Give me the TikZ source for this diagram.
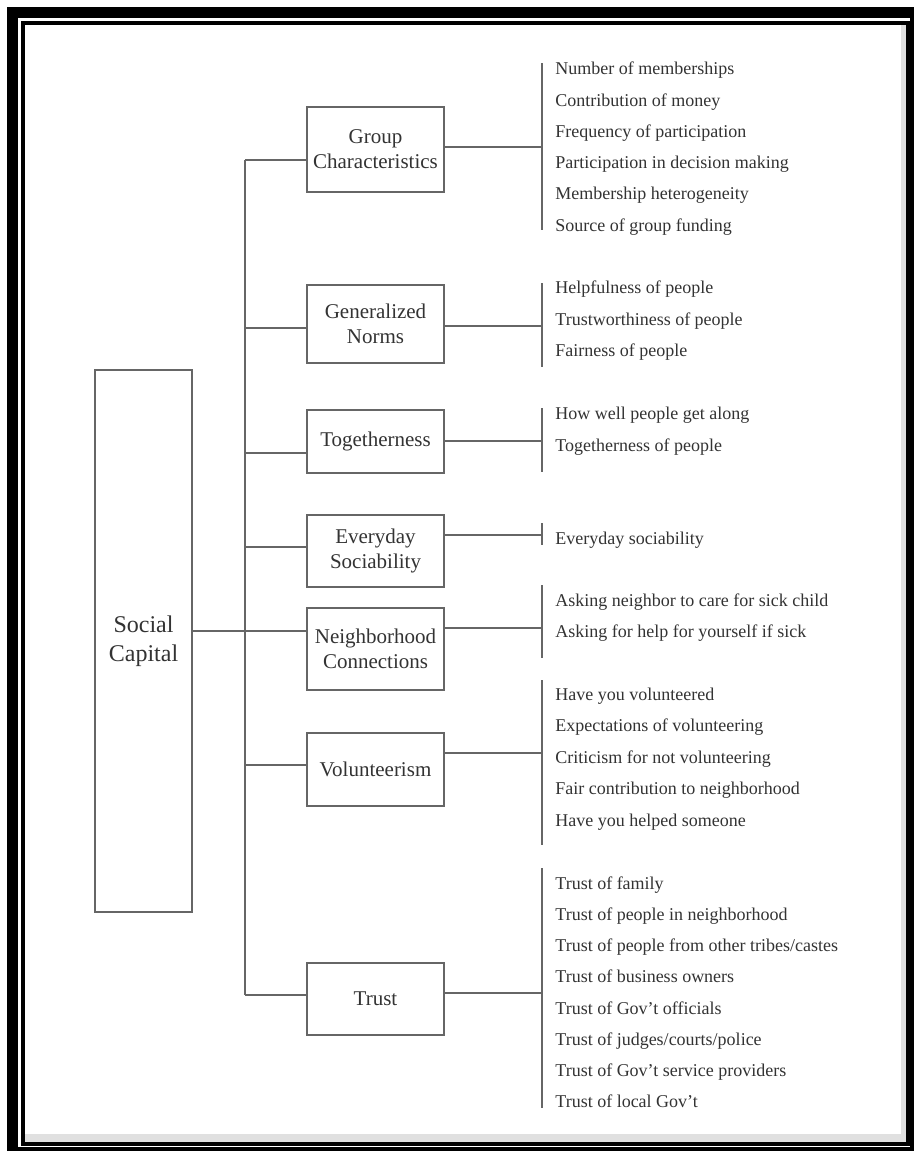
\documentclass[tikz,border=0pt]{standalone}
\usepackage{fontspec}
\setmainfont{Liberation Serif}
\usetikzlibrary{positioning}

\begin{document}
\begin{tikzpicture}[x=0.5pt,y=-0.5pt,
  cat/.style={draw=black!60,line width=0.8pt,minimum width=68.5pt,align=center,
    inner sep=0pt,text=black!80,font=\fontsize{10.5}{12.5}\selectfont},
  root/.style={draw=black!60,line width=0.8pt,minimum width=48.5pt,minimum height=271pt,
    align=center,inner sep=0pt,text=black!80,font=\fontsize{12}{14.5}\selectfont},
  item/.style={anchor=west,inner sep=0pt,text height=6.5pt,text depth=2pt,
    text=black!80,font=\fontsize{9}{11}\selectfont},
  link/.style={draw=black!60,line width=0.8pt}]
  \useasboundingbox (0,0) rectangle (914,1151);
  % frame
  \fill[black] (7,7) rectangle (914,1151);
  \fill[white] (18,18) rectangle (910,1147);
  \fill[black] (21,21) rectangle (910,1146);
  \fill[black!12] (25,25) rectangle (906,1142);
  \fill[white] (25,25) rectangle (901,1134);

  % root and categories
  \node[root] (sc) at (143.5,641) {Social\\Capital};
  \node[cat,minimum height=42.5pt] (grp) at (375.5,149.5) {Group\\Characteristics};
  \node[cat,minimum height=39pt] (norms) at (375.5,324) {Generalized\\Norms};
  \node[cat,minimum height=31.5pt] (tog) at (375.5,441.5) {Togetherness};
  \node[cat,minimum height=36pt] (every) at (375.5,551) {Everyday\\Sociability};
  \node[cat,minimum height=41pt] (neigh) at (375.5,649) {Neighborhood\\Connections};
  \node[cat,minimum height=36.5pt] (vol) at (375.5,769.5) {Volunteerism};
  \node[cat,minimum height=36pt] (trust) at (375.5,999) {Trust};

  % spine
  \coordinate (sp1) at (245,160);
  \coordinate (sp2) at (245,328);
  \coordinate (sp3) at (245,453);
  \coordinate (sp4) at (245,547);
  \coordinate (sp5) at (245,631);
  \coordinate (sp6) at (245,765);
  \coordinate (sp7) at (245,995);
  \draw[link] (sp1) -- (sp7);
  \draw[link] (sp1) -- (grp.west |- sp1);
  \draw[link] (sp2) -- (norms.west |- sp2);
  \draw[link] (sp3) -- (tog.west |- sp3);
  \draw[link] (sp4) -- (every.west |- sp4);
  \draw[link] (sc.east |- sp5) -- (neigh.west |- sp5);
  \draw[link] (sp6) -- (vol.west |- sp6);
  \draw[link] (sp7) -- (trust.west |- sp7);

  % items
  \node[item] (g1) at (555,70) {Number of memberships};
  \node[item] (g2) at (555,102) {Contribution of money};
  \node[item] (g3) at (555,133) {Frequency of participation};
  \node[item] (g4) at (555,164) {Participation in decision making};
  \node[item] (g5) at (555,195) {Membership heterogeneity};
  \node[item] (g6) at (555,227) {Source of group funding};

  \node[item] (n1) at (555,289) {Helpfulness of people};
  \node[item] (n2) at (555,321) {Trustworthiness of people};
  \node[item] (n3) at (555,352) {Fairness of people};

  \node[item] (t1) at (555,415) {How well people get along};
  \node[item] (t2) at (555,447) {Togetherness of people};

  \node[item] (e1) at (555,540) {Everyday sociability};

  \node[item] (h1) at (555,602) {Asking neighbor to care for sick child};
  \node[item] (h2) at (555,633) {Asking for help for yourself if sick};

  \node[item] (v1) at (555,696) {Have you volunteered};
  \node[item] (v2) at (555,727) {Expectations of volunteering};
  \node[item] (v3) at (555,759) {Criticism for not volunteering};
  \node[item] (v4) at (555,790) {Fair contribution to neighborhood};
  \node[item] (v5) at (555,822) {Have you helped someone};

  \node[item] (r1) at (555,885) {Trust of family};
  \node[item] (r2) at (555,916) {Trust of people in neighborhood};
  \node[item] (r3) at (555,947) {Trust of people from other tribes/castes};
  \node[item] (r4) at (555,978) {Trust of business owners};
  \node[item] (r5) at (555,1010) {Trust of Gov't officials};
  \node[item] (r6) at (555,1041) {Trust of judges/courts/police};
  \node[item] (r7) at (555,1072) {Trust of Gov't service providers};
  \node[item] (r8) at (555,1103) {Trust of local Gov't};

  % brackets
  \coordinate (gb) at (542,147);
  \coordinate (nb) at (542,326);
  \coordinate (tb) at (542,441);
  \coordinate (eb) at (542,535);
  \coordinate (hb) at (542,628);
  \coordinate (vb) at (542,753);
  \coordinate (rb) at (542,993);
  \draw[link] (542,63) -- (542,230);
  \draw[link] (542,283) -- (542,367);
  \draw[link] (542,408) -- (542,472);
  \draw[link] (542,523) -- (542,545);
  \draw[link] (542,585) -- (542,658);
  \draw[link] (542,680) -- (542,845);
  \draw[link] (542,868) -- (542,1108);
  \draw[link] (grp.east |- gb) -- (gb);
  \draw[link] (norms.east |- nb) -- (nb);
  \draw[link] (tog.east |- tb) -- (tb);
  \draw[link] (every.east |- eb) -- (eb);
  \draw[link] (neigh.east |- hb) -- (hb);
  \draw[link] (vol.east |- vb) -- (vb);
  \draw[link] (trust.east |- rb) -- (rb);
\end{tikzpicture}
\end{document}
